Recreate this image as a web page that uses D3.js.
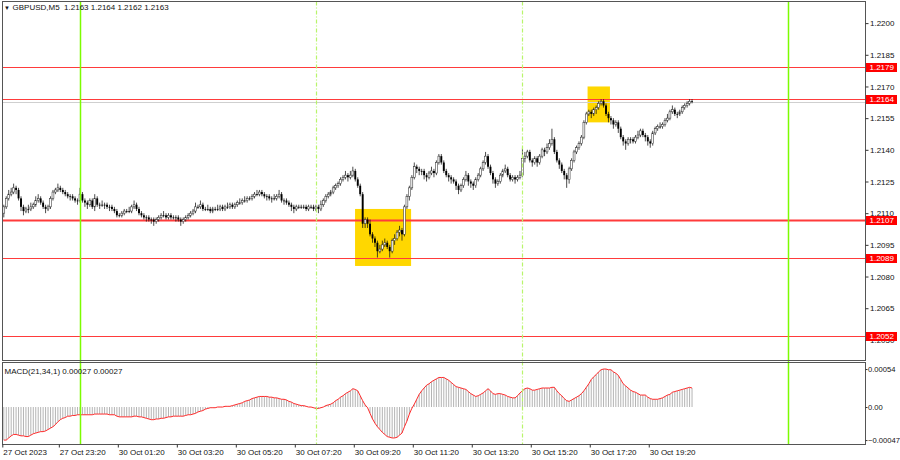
<!DOCTYPE html>
<html><head><meta charset="utf-8">
<script src="https://cdn.jsdelivr.net/npm/d3@7/dist/d3.min.js"></script>
<style>html,body{margin:0;padding:0;background:#fff;}svg{display:block;}text{font-family:"Liberation Sans",Arial,sans-serif;}</style>
</head><body><svg id="c" width="900" height="460"></svg>
<script>
const titleText = "GBPUSD,M5  1.2163 1.2164 1.2162 1.2163";
const macdTitle = "MACD(21,34,1) 0.00027 0.00027";
const opens = [1.2110,
1.2113,1.2117,1.2119,1.2120,1.2122,1.2121,1.2117,1.2113,1.2111,1.2112,
1.2112,1.2113,1.2114,1.2116,1.2117,1.2115,1.2113,1.2112,1.2113,1.2117,
1.2120,1.2121,1.2122,1.2121,1.2120,1.2119,1.2118,1.2118,1.2117,1.2116,
1.2116,1.2119,1.2116,1.2115,1.2114,1.2116,1.2113,1.2117,1.2114,1.2114,
1.2114,1.2114,1.2113,1.2113,1.2112,1.2111,1.2109,1.2109,1.2110,1.2111,
1.2111,1.2111,1.2113,1.2114,1.2112,1.2110,1.2109,1.2108,1.2108,1.2107,
1.2107,1.2106,1.2107,1.2108,1.2109,1.2109,1.2108,1.2109,1.2108,1.2108,
1.2108,1.2107,1.2106,1.2107,1.2108,1.2109,1.2110,1.2111,1.2113,1.2113,
1.2114,1.2112,1.2112,1.2112,1.2111,1.2112,1.2112,1.2112,1.2113,1.2112,
1.2113,1.2113,1.2114,1.2113,1.2114,1.2115,1.2115,1.2116,1.2116,1.2117,
1.2117,1.2118,1.2119,1.2119,1.2120,1.2119,1.2118,1.2118,1.2117,1.2117,
1.2117,1.2118,1.2119,1.2116,1.2116,1.2115,1.2114,1.2113,1.2112,1.2113,
1.2113,1.2113,1.2113,1.2112,1.2113,1.2113,1.2112,1.2113,1.2112,1.2114,
1.2116,1.2118,1.2119,1.2120,1.2122,1.2123,1.2124,1.2126,1.2127,1.2128,
1.2127,1.2128,1.2130,1.2126,1.2123,1.2119,1.2105,1.2107,1.2105,1.2100,
1.2098,1.2096,1.2092,1.2093,1.2095,1.2096,1.2094,1.2092,1.2097,1.2098,
1.2101,1.2102,1.2100,1.2113,1.2118,1.2122,1.2127,1.2132,1.2131,1.2130,
1.2130,1.2128,1.2127,1.2129,1.2130,1.2129,1.2134,1.2137,1.2134,1.2130,
1.2128,1.2127,1.2126,1.2125,1.2123,1.2121,1.2123,1.2126,1.2128,1.2125,
1.2124,1.2123,1.2126,1.2128,1.2131,1.2134,1.2137,1.2132,1.2129,1.2126,
1.2124,1.2125,1.2128,1.2130,1.2131,1.2128,1.2126,1.2127,1.2126,1.2127,
1.2128,1.2136,1.2137,1.2139,1.2135,1.2134,1.2136,1.2134,1.2137,1.2140,
1.2139,1.2141,1.2143,1.2145,1.2139,1.2135,1.2133,1.2130,1.2128,1.2126,
1.2131,1.2135,1.2139,1.2141,1.2143,1.2146,1.2153,1.2157,1.2158,1.2157,
1.2159,1.2160,1.2162,1.2163,1.2161,1.2157,1.2155,1.2154,1.2152,1.2153,
1.2150,1.2146,1.2144,1.2143,1.2145,1.2145,1.2144,1.2146,1.2147,1.2149,
1.2147,1.2146,1.2144,1.2143,1.2148,1.2150,1.2151,1.2151,1.2152,1.2154,
1.2155,1.2158,1.2159,1.2157,1.2157,1.2158,1.2160,1.2161,1.2162,1.2163];
const highs = [
1.2114,1.2118,1.2121,1.2122,1.2124,1.2123,1.2122,1.2118,1.2114,1.2113,
1.2114,1.2115,1.2115,1.2118,1.2119,1.2118,1.2116,1.2114,1.2114,1.2118,
1.2121,1.2122,1.2124,1.2123,1.2122,1.2121,1.2120,1.2119,1.2119,1.2118,
1.2117,1.2122,1.2120,1.2117,1.2116,1.2117,1.2117,1.2119,1.2118,1.2115,
1.2116,1.2115,1.2115,1.2114,1.2114,1.2113,1.2112,1.2110,1.2111,1.2112,
1.2112,1.2113,1.2114,1.2116,1.2115,1.2113,1.2111,1.2110,1.2109,1.2109,
1.2108,1.2108,1.2108,1.2109,1.2110,1.2111,1.2110,1.2110,1.2110,1.2109,
1.2109,1.2109,1.2108,1.2108,1.2109,1.2110,1.2111,1.2112,1.2115,1.2114,
1.2116,1.2115,1.2113,1.2114,1.2113,1.2113,1.2113,1.2114,1.2114,1.2114,
1.2114,1.2115,1.2115,1.2115,1.2115,1.2116,1.2117,1.2117,1.2118,1.2118,
1.2118,1.2119,1.2120,1.2121,1.2121,1.2121,1.2120,1.2119,1.2119,1.2118,
1.2119,1.2119,1.2121,1.2120,1.2117,1.2117,1.2116,1.2115,1.2114,1.2114,
1.2114,1.2114,1.2114,1.2114,1.2114,1.2114,1.2114,1.2114,1.2114,1.2116,
1.2117,1.2119,1.2120,1.2121,1.2123,1.2124,1.2125,1.2127,1.2128,1.2130,
1.2129,1.2130,1.2132,1.2131,1.2127,1.2124,1.2120,1.2108,1.2108,1.2107,
1.2101,1.2099,1.2097,1.2095,1.2097,1.2098,1.2097,1.2095,1.2098,1.2100,
1.2102,1.2104,1.2103,1.2114,1.2119,1.2123,1.2128,1.2134,1.2133,1.2132,
1.2131,1.2131,1.2129,1.2130,1.2132,1.2131,1.2135,1.2138,1.2138,1.2135,
1.2131,1.2129,1.2128,1.2127,1.2126,1.2124,1.2124,1.2127,1.2130,1.2129,
1.2126,1.2125,1.2127,1.2129,1.2132,1.2135,1.2139,1.2138,1.2133,1.2130,
1.2127,1.2126,1.2129,1.2131,1.2133,1.2132,1.2129,1.2128,1.2128,1.2128,
1.2130,1.2141,1.2139,1.2140,1.2140,1.2136,1.2137,1.2137,1.2138,1.2141,
1.2141,1.2143,1.2145,1.2150,1.2146,1.2140,1.2136,1.2134,1.2131,1.2129,
1.2132,1.2136,1.2140,1.2142,1.2144,1.2147,1.2154,1.2158,1.2159,1.2159,
1.2160,1.2161,1.2163,1.2164,1.2164,1.2162,1.2158,1.2156,1.2155,1.2154,
1.2154,1.2151,1.2147,1.2145,1.2146,1.2146,1.2146,1.2147,1.2149,1.2150,
1.2150,1.2148,1.2147,1.2145,1.2149,1.2151,1.2152,1.2153,1.2153,1.2155,
1.2157,1.2159,1.2161,1.2160,1.2158,1.2159,1.2161,1.2162,1.2163,1.2164,1.2164];
const lows = [
1.2108,1.2112,1.2116,1.2118,1.2119,1.2119,1.2116,1.2111,1.2109,1.2110,
1.2110,1.2111,1.2112,1.2113,1.2115,1.2114,1.2112,1.2110,1.2111,1.2112,
1.2116,1.2119,1.2120,1.2120,1.2119,1.2118,1.2117,1.2116,1.2116,1.2115,
1.2114,1.2115,1.2115,1.2113,1.2112,1.2113,1.2112,1.2111,1.2113,1.2112,
1.2113,1.2112,1.2112,1.2111,1.2111,1.2110,1.2108,1.2108,1.2108,1.2109,
1.2110,1.2110,1.2110,1.2112,1.2111,1.2109,1.2108,1.2107,1.2106,1.2106,
1.2105,1.2104,1.2105,1.2106,1.2107,1.2108,1.2107,1.2107,1.2107,1.2107,
1.2106,1.2106,1.2104,1.2105,1.2106,1.2107,1.2108,1.2109,1.2110,1.2112,
1.2112,1.2111,1.2111,1.2111,1.2110,1.2110,1.2111,1.2111,1.2111,1.2111,
1.2111,1.2112,1.2112,1.2112,1.2112,1.2113,1.2114,1.2114,1.2115,1.2115,
1.2116,1.2116,1.2117,1.2118,1.2118,1.2118,1.2117,1.2116,1.2116,1.2115,
1.2116,1.2116,1.2117,1.2115,1.2114,1.2114,1.2113,1.2111,1.2110,1.2111,
1.2112,1.2112,1.2112,1.2111,1.2111,1.2112,1.2111,1.2111,1.2110,1.2111,
1.2113,1.2115,1.2117,1.2118,1.2119,1.2121,1.2122,1.2123,1.2125,1.2126,
1.2125,1.2126,1.2127,1.2125,1.2122,1.2118,1.2103,1.2103,1.2103,1.2099,
1.2096,1.2094,1.2089,1.2091,1.2092,1.2094,1.2093,1.2089,1.2091,1.2095,
1.2097,1.2099,1.2097,1.2099,1.2112,1.2116,1.2121,1.2126,1.2129,1.2128,
1.2128,1.2126,1.2125,1.2126,1.2128,1.2127,1.2128,1.2133,1.2133,1.2129,
1.2127,1.2125,1.2124,1.2124,1.2121,1.2119,1.2120,1.2122,1.2125,1.2123,
1.2122,1.2121,1.2122,1.2125,1.2127,1.2130,1.2133,1.2131,1.2128,1.2124,
1.2122,1.2123,1.2124,1.2127,1.2129,1.2127,1.2125,1.2125,1.2124,1.2125,
1.2126,1.2127,1.2134,1.2136,1.2134,1.2132,1.2133,1.2132,1.2133,1.2136,
1.2137,1.2138,1.2140,1.2142,1.2138,1.2134,1.2131,1.2129,1.2126,1.2122,
1.2124,1.2130,1.2134,1.2138,1.2140,1.2142,1.2145,1.2152,1.2156,1.2155,
1.2156,1.2157,1.2159,1.2161,1.2160,1.2156,1.2153,1.2152,1.2150,1.2151,
1.2148,1.2145,1.2142,1.2140,1.2142,1.2143,1.2143,1.2143,1.2145,1.2146,
1.2146,1.2144,1.2142,1.2141,1.2142,1.2147,1.2149,1.2150,1.2150,1.2151,
1.2153,1.2154,1.2157,1.2156,1.2155,1.2156,1.2157,1.2159,1.2160,1.2161,1.2162];
const closes = [
1.2113,1.2117,1.2119,1.2120,1.2122,1.2121,1.2117,1.2113,1.2111,1.2112,
1.2112,1.2113,1.2114,1.2116,1.2117,1.2115,1.2113,1.2112,1.2113,1.2117,
1.2120,1.2121,1.2122,1.2121,1.2120,1.2119,1.2118,1.2118,1.2117,1.2116,
1.2116,1.2119,1.2116,1.2115,1.2114,1.2116,1.2113,1.2117,1.2114,1.2114,
1.2114,1.2114,1.2113,1.2113,1.2112,1.2111,1.2109,1.2109,1.2110,1.2111,
1.2111,1.2111,1.2113,1.2114,1.2112,1.2110,1.2109,1.2108,1.2108,1.2107,
1.2107,1.2106,1.2107,1.2108,1.2109,1.2109,1.2108,1.2109,1.2108,1.2108,
1.2108,1.2107,1.2106,1.2107,1.2108,1.2109,1.2110,1.2111,1.2113,1.2113,
1.2114,1.2112,1.2112,1.2112,1.2111,1.2112,1.2112,1.2112,1.2113,1.2112,
1.2113,1.2113,1.2114,1.2113,1.2114,1.2115,1.2115,1.2116,1.2116,1.2117,
1.2117,1.2118,1.2119,1.2119,1.2120,1.2119,1.2118,1.2118,1.2117,1.2117,
1.2117,1.2118,1.2119,1.2116,1.2116,1.2115,1.2114,1.2113,1.2112,1.2113,
1.2113,1.2113,1.2113,1.2112,1.2113,1.2113,1.2112,1.2113,1.2112,1.2114,
1.2116,1.2118,1.2119,1.2120,1.2122,1.2123,1.2124,1.2126,1.2127,1.2128,
1.2127,1.2128,1.2130,1.2126,1.2123,1.2119,1.2105,1.2107,1.2105,1.2100,
1.2098,1.2096,1.2092,1.2093,1.2095,1.2096,1.2094,1.2092,1.2097,1.2098,
1.2101,1.2102,1.2100,1.2113,1.2118,1.2122,1.2127,1.2132,1.2131,1.2130,
1.2130,1.2128,1.2127,1.2129,1.2130,1.2129,1.2134,1.2137,1.2134,1.2130,
1.2128,1.2127,1.2126,1.2125,1.2123,1.2121,1.2123,1.2126,1.2128,1.2125,
1.2124,1.2123,1.2126,1.2128,1.2131,1.2134,1.2137,1.2132,1.2129,1.2126,
1.2124,1.2125,1.2128,1.2130,1.2131,1.2128,1.2126,1.2127,1.2126,1.2127,
1.2128,1.2136,1.2137,1.2139,1.2135,1.2134,1.2136,1.2134,1.2137,1.2140,
1.2139,1.2141,1.2143,1.2145,1.2139,1.2135,1.2133,1.2130,1.2128,1.2126,
1.2131,1.2135,1.2139,1.2141,1.2143,1.2146,1.2153,1.2157,1.2158,1.2157,
1.2159,1.2160,1.2162,1.2163,1.2161,1.2157,1.2155,1.2154,1.2152,1.2153,
1.2150,1.2146,1.2144,1.2143,1.2145,1.2145,1.2144,1.2146,1.2147,1.2149,
1.2147,1.2146,1.2144,1.2143,1.2148,1.2150,1.2151,1.2151,1.2152,1.2154,
1.2155,1.2158,1.2159,1.2157,1.2157,1.2158,1.2160,1.2161,1.2162,1.2163,1.2163];
const macdValues = [
-0.00047,-0.00047,-0.00044,-0.00041,-0.00039,-0.00039,-0.00040,-0.00041,-0.00041,-0.00042,
-0.00042,-0.00040,-0.00038,-0.00037,-0.00036,-0.00035,-0.00035,-0.00034,-0.00032,-0.00030,
-0.00028,-0.00025,-0.00021,-0.00018,-0.00016,-0.00015,-0.00013,-0.00013,-0.00012,-0.00012,
-0.00011,-0.00011,-0.00011,-0.00011,-0.00011,-0.00011,-0.00011,-0.00010,-0.00010,-0.00010,
-0.00010,-0.00010,-0.00010,-0.00011,-0.00011,-0.00011,-0.00013,-0.00014,-0.00014,-0.00014,
-0.00014,-0.00014,-0.00014,-0.00013,-0.00013,-0.00014,-0.00014,-0.00015,-0.00016,-0.00017,
-0.00018,-0.00018,-0.00017,-0.00017,-0.00016,-0.00016,-0.00015,-0.00014,-0.00014,-0.00013,
-0.00013,-0.00013,-0.00013,-0.00013,-0.00012,-0.00011,-0.00011,-0.00010,-0.00009,-0.00007,
-0.00006,-0.00005,-0.00003,-0.00002,-0.00001,-0.00001,-0.00001,0.00000,0.00000,0.00000,
0.00001,0.00001,0.00001,0.00002,0.00003,0.00004,0.00005,0.00006,0.00008,0.00009,
0.00010,0.00012,0.00013,0.00014,0.00015,0.00015,0.00015,0.00015,0.00014,0.00014,
0.00013,0.00013,0.00012,0.00011,0.00011,0.00010,0.00008,0.00007,0.00005,0.00004,
0.00003,0.00002,0.00002,0.00001,0.00000,0.00000,-0.00001,-0.00002,-0.00002,-0.00001,
0.00000,0.00002,0.00003,0.00004,0.00006,0.00009,0.00011,0.00014,0.00016,0.00019,
0.00021,0.00023,0.00026,0.00025,0.00023,0.00016,0.00009,0.00003,-0.00001,-0.00009,
-0.00017,-0.00023,-0.00028,-0.00032,-0.00036,-0.00039,-0.00042,-0.00043,-0.00044,-0.00044,
-0.00043,-0.00040,-0.00037,-0.00028,-0.00020,-0.00010,-0.00002,0.00004,0.00011,0.00018,
0.00023,0.00027,0.00031,0.00033,0.00036,0.00038,0.00040,0.00042,0.00042,0.00042,
0.00040,0.00038,0.00035,0.00032,0.00029,0.00028,0.00027,0.00026,0.00025,0.00022,
0.00019,0.00017,0.00015,0.00016,0.00018,0.00020,0.00023,0.00026,0.00023,0.00019,
0.00018,0.00019,0.00019,0.00018,0.00017,0.00015,0.00014,0.00013,0.00013,0.00016,
0.00020,0.00023,0.00026,0.00027,0.00026,0.00024,0.00024,0.00025,0.00026,0.00027,
0.00027,0.00027,0.00027,0.00028,0.00028,0.00023,0.00019,0.00016,0.00012,0.00009,
0.00008,0.00010,0.00012,0.00014,0.00016,0.00019,0.00023,0.00028,0.00033,0.00039,
0.00043,0.00046,0.00050,0.00053,0.00054,0.00054,0.00053,0.00053,0.00050,0.00048,
0.00045,0.00039,0.00033,0.00030,0.00027,0.00024,0.00022,0.00021,0.00019,0.00017,
0.00017,0.00017,0.00014,0.00012,0.00011,0.00011,0.00011,0.00012,0.00013,0.00015,
0.00017,0.00018,0.00021,0.00022,0.00023,0.00024,0.00025,0.00026,0.00027,0.00028,0.00027];
const priceTicks = [1.2200,1.2185,1.2170,1.2155,1.2140,1.2125,1.2110,1.2095,1.2080,1.2065,1.2050];
const levelPrices = [1.2179,1.2164,1.2107,1.2089,1.2052];
const bidPrice = 1.2163;
const macdTicks = [0.00054, 0.00, -0.00047];
const timeLabels = ["27 Oct 2023","27 Oct 23:20","30 Oct 01:20","30 Oct 03:20","30 Oct 05:20","30 Oct 07:20","30 Oct 09:20","30 Oct 11:20","30 Oct 13:20","30 Oct 15:20","30 Oct 17:20","30 Oct 19:20"];
const timeLabelBars = [0,23,47,71,95,119,143,167,191,215,239,263];
const dayStartBars = [31,319];
const markerBars = [127,211];
const zoneStartBars = [142.9,237.5];
const zoneEndBars = [165.7,246.6];
const zoneTops = [1.2112,1.2170];
const zoneBottoms = [1.2085,1.2153];

// ---- layout ----
const L = 2.5, R = 865.5, mainTop = 1.5, mainBot = 360.5, macdTop = 362.5, macdBot = 444.5;
const svg = d3.select("#c");
const x = d3.scaleLinear().domain([0, 350]).range([3.8, 3.8 + 350 * 2.458]);
const y = d3.scaleLinear().domain([1.2040, 1.2210]).range([361, 2]);
const ym = d3.scaleLinear().domain([-0.00054, 0.00064]).range([445, 362]);
const snap = v => Math.round(v) + 0.5;

const defs = svg.append("defs");
defs.append("clipPath").attr("id","cm").append("rect").attr("x",L).attr("y",mainTop).attr("width",R-L).attr("height",mainBot-mainTop);
defs.append("clipPath").attr("id","cd").append("rect").attr("x",L).attr("y",macdTop).attr("width",R-L).attr("height",macdBot-macdTop);

const gm = svg.append("g").attr("clip-path","url(#cm)");
const gd = svg.append("g").attr("clip-path","url(#cd)");

// zones
gm.selectAll("rect.zone").data(zoneStartBars).join("rect").attr("class","zone")
  .attr("x",(d)=>x(d)).attr("width",(d,i)=>x(zoneEndBars[i])-x(d))
  .attr("y",(d,i)=>y(zoneTops[i])).attr("height",(d,i)=>y(zoneBottoms[i])-y(zoneTops[i]))
  .attr("fill","#ffd700");

// bid line
gm.append("line").attr("x1",L).attr("x2",R).attr("y1",snap(y(bidPrice))+1).attr("y2",snap(y(bidPrice))+1).attr("stroke","#cfcfcf").attr("stroke-width",1);

// level lines
gm.selectAll("line.lvl").data(levelPrices).join("line").attr("class","lvl")
  .attr("x1",L).attr("x2",R).attr("y1",d=>snap(y(d))).attr("y2",d=>snap(y(d)))
  .attr("stroke","#ff3b3b").attr("stroke-width",d=>d===1.2107?2:1);

// vertical lines (both panels)
const vg = svg.append("g");
vg.selectAll("line.day").data(dayStartBars).join("line").attr("class","day")
  .attr("x1",d=>snap(x(d))).attr("x2",d=>snap(x(d))).attr("y1",mainTop).attr("y2",macdBot)
  .attr("stroke","#7cfc00").attr("stroke-width",1.5);
vg.selectAll("line.mk").data(markerBars).join("line").attr("class","mk")
  .attr("x1",d=>snap(x(d))).attr("x2",d=>snap(x(d))).attr("y1",mainTop).attr("y2",macdBot)
  .attr("stroke","#b8f56a").attr("stroke-width",1.2).attr("stroke-dasharray","4,2,1,2");

// candles
const bars = closes.map((c,i)=>({i,o:opens[i],h:highs[i],l:lows[i],c}));
const cg = gm.append("g");
cg.selectAll("line.wick").data(bars).join("line").attr("class","wick")
  .attr("x1",d=>x(d.i)).attr("x2",d=>x(d.i)).attr("y1",d=>y(d.h)).attr("y2",d=>y(d.l))
  .attr("stroke","#111").attr("stroke-width",0.75);
cg.selectAll("rect.body").data(bars).join("rect").attr("class","body")
  .attr("x",d=>x(d.i)-0.95).attr("width",1.9)
  .attr("y",d=>y(Math.max(d.o,d.c)))
  .attr("height",d=>Math.max(0.8,Math.abs(y(d.o)-y(d.c))))
  .attr("fill",d=>d.c>d.o?"#fff":"#000")
  .attr("stroke",d=>d.c>d.o?"#333":"none").attr("stroke-width",0.55);

// MACD
gd.selectAll("line.hist").data(macdValues).join("line").attr("class","hist")
  .attr("x1",(d,i)=>x(i)).attr("x2",(d,i)=>x(i)).attr("y1",ym(0)).attr("y2",d=>ym(d))
  .attr("stroke","#b4b4b4").attr("stroke-width",1);
gd.append("path").datum(macdValues)
  .attr("d",d3.line().x((d,i)=>x(i)).y(d=>ym(d)))
  .attr("fill","none").attr("stroke","#ff2a2a").attr("stroke-width",1);

// borders
svg.append("rect").attr("x",L).attr("y",mainTop).attr("width",R-L).attr("height",mainBot-mainTop).attr("fill","none").attr("stroke","#555").attr("stroke-width",1);
svg.append("rect").attr("x",L).attr("y",macdTop).attr("width",R-L).attr("height",macdBot-macdTop).attr("fill","none").attr("stroke","#555").attr("stroke-width",1);

// price axis
const pa = svg.append("g").attr("transform",`translate(${R},0)`)
  .call(d3.axisRight(y).tickValues(priceTicks).tickFormat(d3.format(".4f")).tickSize(3).tickPadding(1.5));
pa.select(".domain").remove();
pa.selectAll("line").attr("stroke","#333");
pa.selectAll("text").attr("font-size","8px").attr("font-family","Liberation Sans, Arial, sans-serif").attr("fill","#111");

// level labels
const lb = svg.append("g").selectAll("g").data(levelPrices).join("g").attr("transform",d=>`translate(866,${snap(y(d))})`);
lb.append("rect").attr("x",0).attr("y",-4.5).attr("width",31).attr("height",9).attr("fill","#ff0000");
lb.append("text").attr("x",3.5).attr("y",0).attr("dy","0.35em").attr("font-size","8px").attr("fill","#fff").text(d=>d3.format(".4f")(d));

// MACD axis
const ma = svg.append("g").attr("transform",`translate(${R},0)`)
  .call(d3.axisRight(ym).tickValues(macdTicks).tickFormat(d=>d===0?"0.00":d3.format(".5f")(d)).tickSize(2).tickPadding(0.5));
ma.select(".domain").remove();
ma.selectAll("line").attr("stroke","#333");
ma.selectAll("text").attr("font-size","7.6px").attr("font-family","Liberation Sans, Arial, sans-serif").attr("fill","#111");

// time axis
const ta = svg.append("g").attr("transform",`translate(0,${macdBot})`)
  .call(d3.axisBottom(x).tickValues(timeLabelBars).tickFormat((d,i)=>timeLabels[i]).tickSize(3).tickPadding(2));
ta.select(".domain").remove();
ta.selectAll("line").attr("stroke","#333").attr("transform","translate(-1.5,0)");
ta.selectAll("text").attr("text-anchor","start").attr("dx","-1px").attr("font-size","8px").attr("font-family","Liberation Sans, Arial, sans-serif").attr("fill","#111");

// titles
svg.append("text").attr("x",4).attr("y",9.5).attr("font-size","6px").attr("fill","#111").text("▼");
svg.append("text").attr("x",12.5).attr("y",10).attr("font-size","8px").attr("fill","#111").attr("xml:space","preserve").style("white-space","pre").text(titleText);
svg.append("text").attr("x",4.5).attr("y",373.5).attr("font-size","8px").attr("fill","#111").text(macdTitle);
</script></body></html>
